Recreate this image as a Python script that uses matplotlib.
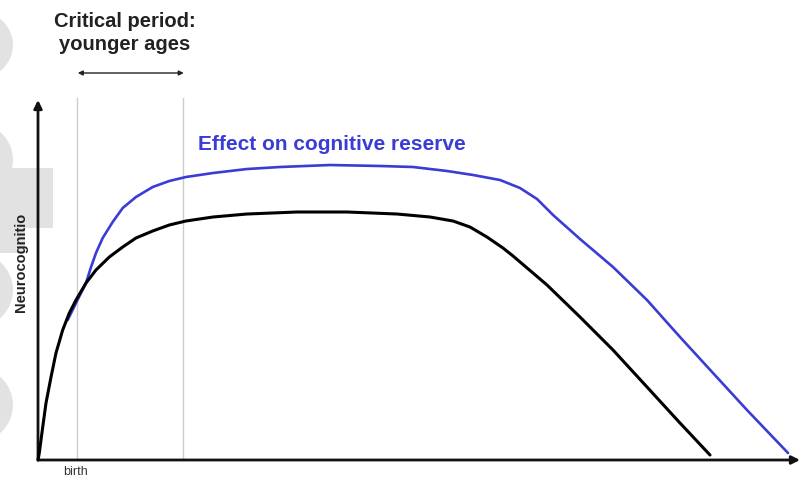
import matplotlib.pyplot as plt
from matplotlib.patches import Ellipse, Rectangle

plt.rcParams['font.family'] = ['Liberation Sans', 'DejaVu Sans']

# Curves (age on x, neurocognition on y, both 0-100)
normal_age = [0, 0.17, 0.62, 1.05, 1.71, 2.36, 3.24, 4.11, 4.99, 6.30, 7.61,
              9.36, 11.12, 12.86, 15.05, 17.23, 19.42, 22.97, 27.43, 33.99,
              40.55, 47.11, 51.44, 54.46, 56.69, 58.92, 61.02, 62.34, 66.80,
              71.13, 75.46, 79.92, 84.25, 88.19]
normal_neuro = [0, 1.94, 9.17, 15.83, 23.06, 29.72, 36.11, 40.83, 44.44, 49.17,
                52.78, 56.39, 59.17, 61.67, 63.61, 65.28, 66.39, 67.50, 68.33,
                68.89, 68.89, 68.33, 67.50, 66.39, 64.72, 61.94, 58.89, 56.67,
                48.61, 39.72, 30.56, 20.28, 10.28, 1.39]

reserve_age = [3.90, 4.99, 6.30, 6.96, 7.61, 8.49, 9.80, 11.12, 12.86, 15.05,
               17.23, 19.42, 22.97, 27.43, 31.76, 38.32, 44.88, 49.21, 53.67,
               57.09, 60.63, 63.25, 65.49, 67.59, 71.13, 75.46, 79.92, 84.25,
               88.58, 93.04, 98.43]
reserve_neuro = [38.89, 43.61, 49.17, 53.61, 57.50, 61.67, 66.11, 70.00, 73.06,
                 75.83, 77.50, 78.61, 79.72, 80.83, 81.39, 81.94, 81.67, 81.39,
                 80.28, 79.17, 77.78, 75.56, 72.50, 68.06, 61.39, 53.61, 44.44,
                 34.17, 24.17, 13.89, 1.94]

birth_age = 5.12
critical_end = 19.03

blue = '#3b3bd6'

fig = plt.figure(figsize=(8.04, 4.84), dpi=100)

# faint watermark on the left edge (pixel coordinates)
bg = fig.add_axes([0, 0, 1, 1], zorder=0)
bg.set_xlim(0, 804)
bg.set_ylim(484, 0)
bg.axis('off')
wm = '#e2e2e2'
bg.add_patch(Ellipse((-25, 45), 76, 70, color=wm, lw=0))
bg.add_patch(Ellipse((-25, 160), 76, 75, color=wm, lw=0))
bg.add_patch(Rectangle((0, 168), 53, 60, color=wm, lw=0))
bg.add_patch(Rectangle((0, 225), 25, 28, color=wm, lw=0))
bg.add_patch(Ellipse((-25, 290), 76, 75, color=wm, lw=0))
bg.add_patch(Ellipse((-25, 405), 76, 75, color=wm, lw=0))

ax = fig.add_axes([38 / 804, 24 / 484, 762 / 804, 360 / 484], zorder=1)
ax.set_xlim(0, 100)
ax.set_ylim(0, 100)
ax.axis('off')
ax.patch.set_alpha(0)

# axes with arrows
ax.annotate('', xy=(100, 0), xytext=(0, 0), annotation_clip=False,
            arrowprops=dict(arrowstyle='-|>', color='#111111', lw=2,
                            mutation_scale=12, shrinkA=0, shrinkB=0))
ax.annotate('', xy=(0, 100), xytext=(0, 0), annotation_clip=False,
            arrowprops=dict(arrowstyle='-|>', color='#111111', lw=2,
                            mutation_scale=12, shrinkA=0, shrinkB=0))

# critical period markers
for xv in [birth_age, critical_end]:
    ax.plot([xv, xv], [0, 100.5], color='#cccccc', lw=1, clip_on=False)
ax.annotate('', xy=(critical_end + 0.1, 107.5), xytext=(birth_age + 0.1, 107.5),
            annotation_clip=False,
            arrowprops=dict(arrowstyle='<|-|>', color='#222222', lw=1,
                            mutation_scale=7, shrinkA=0, shrinkB=0))
ax.text(11.4, 118.6, 'Critical period:\nyounger ages', ha='center', va='center',
        fontsize=14.5, fontweight='bold', color='#222222', linespacing=1.25,
        clip_on=False)

# curves
ax.plot(reserve_age, reserve_neuro, color=blue, lw=1.9, clip_on=False,
        solid_joinstyle='round', solid_capstyle='round', zorder=3)
ax.plot(normal_age, normal_neuro, color='black', lw=2.2, clip_on=False,
        solid_joinstyle='round', solid_capstyle='round', zorder=4)

ax.text(21.0, 86.1, 'Effect on cognitive reserve', ha='left', va='baseline',
        fontsize=15, fontweight='bold', color=blue)

ax.text(-2.2, 55, 'Neurocognitio', rotation=90, ha='center', va='center',
        fontsize=10.5, fontweight='bold', color='#222222', clip_on=False)
ax.text(4.9, -3.4, 'birth', ha='center', va='center', fontsize=9,
        color='#333333', clip_on=False)

fig.savefig('out.png', dpi=100)
